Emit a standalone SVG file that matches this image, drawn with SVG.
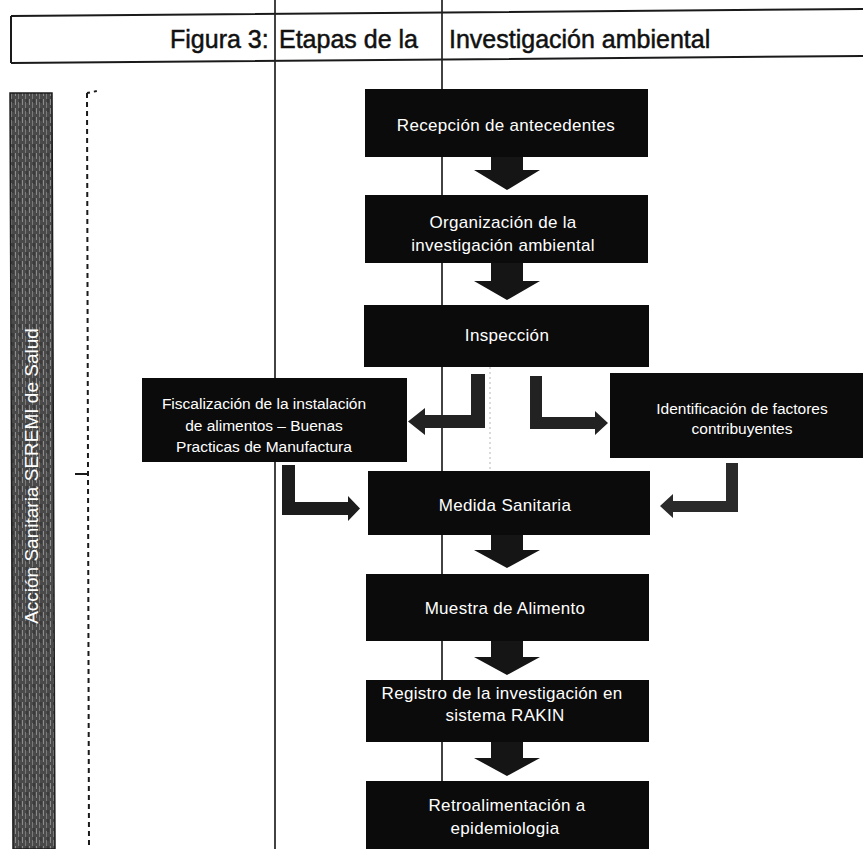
<svg xmlns="http://www.w3.org/2000/svg" width="863" height="849" viewBox="0 0 863 849">
  <style>
    .box { fill: #0b0b0b; }
    .step { fill: #151515; }
    .lbl { fill: #ffffff; font-family: "Liberation Sans", Arial, sans-serif; font-size: 17px; letter-spacing: 0.3px; text-anchor: middle; }
    .lbl-s { fill: #ffffff; font-family: "Liberation Sans", Arial, sans-serif; font-size: 15.5px; text-anchor: middle; }
    .title { fill: #111111; stroke: #111111; stroke-width: 0.5px; font-family: "Liberation Sans", Arial, sans-serif; font-size: 25px; }
    .rule { stroke: #222222; stroke-width: 1.7; fill: none; }
  </style>

  <defs>
    <!-- streaky grey texture of the side band -->
    <pattern id="grain" width="7" height="9" patternUnits="userSpaceOnUse">
      <rect width="7" height="9" fill="#4a4a4a"/>
      <line x1="1.5" y1="0" x2="1.5" y2="6" stroke="#8c8c8c" stroke-width="1"/>
      <line x1="4.5" y1="3" x2="4.5" y2="9" stroke="#7a7a7a" stroke-width="1"/>
      <line x1="6" y1="0" x2="6" y2="4" stroke="#2c2c2c" stroke-width="1"/>
    </pattern>
  </defs>

  <rect width="863" height="849" fill="#ffffff"/>

  <!-- title frame, slightly skewed -->
  <g id="title">
    <path d="M 11,16 L 863,9 M 11,63 L 863,56 M 11,16 L 11,63" stroke="#1a1a1a" stroke-width="2" fill="none"/>
    <text class="title" y="48"><tspan x="170">Figura 3:</tspan><tspan x="279">Etapas de la</tspan><tspan x="449">Investigación ambiental</tspan></text>
  </g>

  <!-- side band -->
  <g id="band">
    <path d="M 10,93 L 52,93 L 55,849 L 13,849 Z" fill="url(#grain)" stroke="#1e1e1e" stroke-width="1.5"/>
    <text transform="translate(38,476) rotate(-90)" fill="#ffffff" font-family="'Liberation Sans', Arial, sans-serif" font-size="19" text-anchor="middle">Acción Sanitaria SEREMI de Salud</text>
  </g>

  <!-- dashed bracket -->
  <g id="bracket" stroke="#1a1a1a" stroke-width="2" fill="none">
    <path d="M 87,93 L 89,849" stroke-dasharray="5 4"/>
    <path d="M 87,93 L 97,91" stroke-dasharray="3 4"/>
    <path d="M 75,474 L 87,474"/>
  </g>

  <!-- vertical rules -->
  <g id="rules">
    <line class="rule" x1="275" y1="0" x2="275" y2="849"/>
    <line class="rule" x1="442" y1="0" x2="442" y2="849"/>
    <line x1="490" y1="367" x2="490" y2="471" stroke="#b5b5b5" stroke-width="1" stroke-dasharray="2 3"/>
  </g>

  <!-- connectors -->
  <g id="connectors" class="step">
    <path d="M 491,157 H 523 V 170 H 540 L 507,190 L 474,170 H 491 Z"/>
    <path d="M 491,263 H 523 V 281 H 540 L 507,300 L 474,281 H 491 Z"/>
    <path d="M 471,374 H 485 V 428 H 425 V 435 L 408,421.5 L 425,408 V 415 H 471 Z" fill="#222"/>
    <path d="M 530,376 H 542 V 417 H 595 V 411 L 608,423 L 595,435 V 429 H 530 Z" fill="#222"/>
    <path d="M 282,465 H 295 V 502 H 348 V 496 L 360,508.5 L 348,521 V 515 H 282 Z" fill="#1c1c1c"/>
    <path d="M 726,463 H 738 V 512 H 673 V 518 L 660,506 L 673,494 V 501 H 726 Z" fill="#2a2a2a"/>
    <path d="M 491,535 H 523 V 550 H 540 L 507,568 L 474,550 H 491 Z"/>
    <path d="M 491,641 H 523 V 657 H 540 L 507,675 L 474,657 H 491 Z"/>
    <path d="M 491,742 H 523 V 758 H 540 L 507,776 L 474,758 H 491 Z"/>
  </g>

  <g id="recepcion">
    <rect class="box" x="365" y="89" width="283" height="68"/>
    <text class="lbl" x="506" y="131">Recepción de antecedentes</text>
  </g>

  <g id="organizacion">
    <rect class="box" x="365" y="195" width="283" height="68"/>
    <text class="lbl" x="503" y="228">Organización de la</text>
    <text class="lbl" x="503" y="251">investigación ambiental</text>
  </g>

  <g id="inspeccion">
    <rect class="box" x="364" y="305" width="285" height="62"/>
    <text class="lbl" x="507" y="341">Inspección</text>
  </g>

  <g id="fiscalizacion">
    <rect class="box" x="142" y="378" width="265" height="84"/>
    <text class="lbl-s" x="264" y="409">Fiscalización de la instalación</text>
    <text class="lbl-s" x="264" y="431">de alimentos – Buenas</text>
    <text class="lbl-s" x="264" y="452">Practicas de Manufactura</text>
  </g>

  <g id="factores">
    <rect class="box" x="610" y="373" width="253" height="85"/>
    <text class="lbl-s" x="742" y="414">Identificación de factores</text>
    <text class="lbl-s" x="742" y="434">contribuyentes</text>
  </g>

  <g id="medida">
    <rect class="box" x="368" y="471" width="282" height="64"/>
    <text class="lbl" x="505" y="511">Medida Sanitaria</text>
  </g>

  <g id="muestra">
    <rect class="box" x="366" y="574" width="283" height="67"/>
    <text class="lbl" x="505" y="614">Muestra de Alimento</text>
  </g>

  <g id="registro">
    <rect class="box" x="366" y="680" width="283" height="62"/>
    <text class="lbl" x="502" y="699">Registro de la investigación en</text>
    <text class="lbl" x="505" y="721">sistema RAKIN</text>
  </g>

  <g id="retroalimentacion">
    <rect class="box" x="366" y="781" width="283" height="68"/>
    <text class="lbl" x="507" y="811">Retroalimentación a</text>
    <text class="lbl" x="505" y="834">epidemiologia</text>
  </g>
</svg>
